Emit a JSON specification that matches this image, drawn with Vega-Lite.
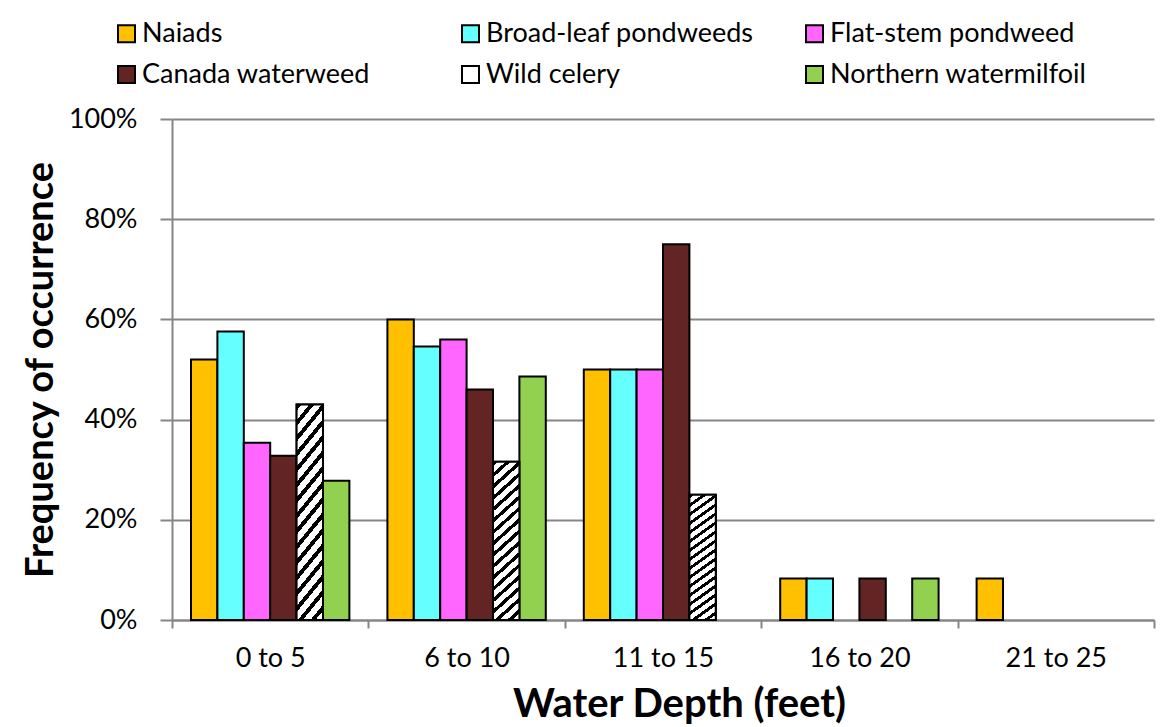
{
  "$schema": "https://vega.github.io/schema/vega-lite/v6.json",
  "width": 982,
  "height": 501,
  "autosize": {"type": "none"},
  "padding": {"left": 172, "top": 119, "right": 20, "bottom": 107},
  "background": "white",
  "data": {"values": [
    {"depth": "0 to 5", "species": "Naiads", "freq": 0.52},
    {"depth": "0 to 5", "species": "Broad-leaf pondweeds", "freq": 0.576},
    {"depth": "0 to 5", "species": "Flat-stem pondweed", "freq": 0.354},
    {"depth": "0 to 5", "species": "Canada waterweed", "freq": 0.328},
    {"depth": "0 to 5", "species": "Wild celery", "freq": 0.43},
    {"depth": "0 to 5", "species": "Northern watermilfoil", "freq": 0.278},
    {"depth": "6 to 10", "species": "Naiads", "freq": 0.60},
    {"depth": "6 to 10", "species": "Broad-leaf pondweeds", "freq": 0.546},
    {"depth": "6 to 10", "species": "Flat-stem pondweed", "freq": 0.56},
    {"depth": "6 to 10", "species": "Canada waterweed", "freq": 0.46},
    {"depth": "6 to 10", "species": "Wild celery", "freq": 0.316},
    {"depth": "6 to 10", "species": "Northern watermilfoil", "freq": 0.486},
    {"depth": "11 to 15", "species": "Naiads", "freq": 0.5},
    {"depth": "11 to 15", "species": "Broad-leaf pondweeds", "freq": 0.5},
    {"depth": "11 to 15", "species": "Flat-stem pondweed", "freq": 0.5},
    {"depth": "11 to 15", "species": "Canada waterweed", "freq": 0.75},
    {"depth": "11 to 15", "species": "Wild celery", "freq": 0.25},
    {"depth": "16 to 20", "species": "Naiads", "freq": 0.083},
    {"depth": "16 to 20", "species": "Broad-leaf pondweeds", "freq": 0.083},
    {"depth": "16 to 20", "species": "Canada waterweed", "freq": 0.083},
    {"depth": "16 to 20", "species": "Northern watermilfoil", "freq": 0.083},
    {"depth": "21 to 25", "species": "Naiads", "freq": 0.083}
  ]},
  "encoding": {
    "x": {
      "field": "depth", "type": "nominal",
      "sort": ["0 to 5", "6 to 10", "11 to 15", "16 to 20", "21 to 25"],
      "scale": {"domain": ["0 to 5", "6 to 10", "11 to 15", "16 to 20", "21 to 25"], "paddingInner": 0, "paddingOuter": 0},
      "title": "Water Depth (feet)",
      "axis": {"labelAngle": 0, "tickBand": "extent", "tickSize": 8, "labelPadding": 17, "titlePadding": 13, "titleFontSize": 40, "titleX": 507}
    },
    "xOffset": {
      "field": "species", "type": "nominal",
      "scale": {"domain": ["Naiads", "Broad-leaf pondweeds", "Flat-stem pondweed", "Canada waterweed", "Wild celery", "Northern watermilfoil"], "paddingInner": 0, "paddingOuter": 0.72}
    },
    "y": {
      "field": "freq", "type": "quantitative",
      "scale": {"domain": [0, 1]},
      "title": "Frequency of occurrence",
      "axis": {"format": "%", "values": [0, 0.2, 0.4, 0.6, 0.8, 1], "tickSize": 12, "labelPadding": 23, "titlePadding": 8, "titleFontSize": 38}
    }
  },
  "layer": [
    {
      "mark": {"type": "bar", "stroke": "black", "strokeWidth": 2},
      "encoding": {
        "color": {
          "field": "species", "type": "nominal",
          "scale": {
            "domain": ["Naiads", "Broad-leaf pondweeds", "Flat-stem pondweed", "Canada waterweed", "Wild celery", "Northern watermilfoil"],
            "range": ["#FFC000", "#66FFFF", "#FF66FF", "#632523", "#FFFFFF", "#92D050"]
          },
          "legend": {
            "title": null,
            "orient": "none",
            "legendX": -59,
            "legendY": -99,
            "direction": "horizontal",
            "columns": 3,
            "gridAlign": "all",
            "columnPadding": 47,
            "rowPadding": 13,
            "symbolType": "square",
            "symbolSize": 289,
            "symbolStrokeWidth": 2,
            "symbolStrokeColor": "black",
            "symbolOpacity": 1,
            "labelFontSize": 27,
            "labelOffset": 2,
            "labelLimit": 400,
            "padding": 0,
            "encode": {"symbols": {
              "update": {
                "stroke": {"value": "black"},
                "strokeWidth": {"value": 2}
              }
            }}
          }
        }
      }
    },
    {
      "transform": [{"filter": "datum.species === 'Wild celery'"}],
      "mark": {"type": "bar", "stroke": "black", "strokeWidth": 2,
        "fill": {"gradient": "linear", "x1": 0, "y1": 0, "x2": 0.169, "y2": 1.125, "stops": [
            {"offset": 0, "color": "black"}, {"offset": 0.025, "color": "black"}, {"offset": 0.025, "color": "white"}, {"offset": 0.0625, "color": "white"},
            {"offset": 0.0625, "color": "black"}, {"offset": 0.0875, "color": "black"}, {"offset": 0.0875, "color": "white"}, {"offset": 0.125, "color": "white"},
            {"offset": 0.125, "color": "black"}, {"offset": 0.15, "color": "black"}, {"offset": 0.15, "color": "white"}, {"offset": 0.1875, "color": "white"},
            {"offset": 0.1875, "color": "black"}, {"offset": 0.2125, "color": "black"}, {"offset": 0.2125, "color": "white"}, {"offset": 0.25, "color": "white"},
            {"offset": 0.25, "color": "black"}, {"offset": 0.275, "color": "black"}, {"offset": 0.275, "color": "white"}, {"offset": 0.3125, "color": "white"},
            {"offset": 0.3125, "color": "black"}, {"offset": 0.3375, "color": "black"}, {"offset": 0.3375, "color": "white"}, {"offset": 0.375, "color": "white"},
            {"offset": 0.375, "color": "black"}, {"offset": 0.4, "color": "black"}, {"offset": 0.4, "color": "white"}, {"offset": 0.4375, "color": "white"},
            {"offset": 0.4375, "color": "black"}, {"offset": 0.4625, "color": "black"}, {"offset": 0.4625, "color": "white"}, {"offset": 0.5, "color": "white"},
            {"offset": 0.5, "color": "black"}, {"offset": 0.525, "color": "black"}, {"offset": 0.525, "color": "white"}, {"offset": 0.5625, "color": "white"},
            {"offset": 0.5625, "color": "black"}, {"offset": 0.5875, "color": "black"}, {"offset": 0.5875, "color": "white"}, {"offset": 0.625, "color": "white"},
            {"offset": 0.625, "color": "black"}, {"offset": 0.65, "color": "black"}, {"offset": 0.65, "color": "white"}, {"offset": 0.6875, "color": "white"},
            {"offset": 0.6875, "color": "black"}, {"offset": 0.7125, "color": "black"}, {"offset": 0.7125, "color": "white"}, {"offset": 0.75, "color": "white"},
            {"offset": 0.75, "color": "black"}, {"offset": 0.775, "color": "black"}, {"offset": 0.775, "color": "white"}, {"offset": 0.8125, "color": "white"},
            {"offset": 0.8125, "color": "black"}, {"offset": 0.8375, "color": "black"}, {"offset": 0.8375, "color": "white"}, {"offset": 0.875, "color": "white"},
            {"offset": 0.875, "color": "black"}, {"offset": 0.9, "color": "black"}, {"offset": 0.9, "color": "white"}, {"offset": 0.9375, "color": "white"},
            {"offset": 0.9375, "color": "black"}, {"offset": 0.9625, "color": "black"}, {"offset": 0.9625, "color": "white"}, {"offset": 1, "color": "white"}
          ]}
      }
    }
  ],
  "config": {
    "font": "Lato",
    "view": {"stroke": null},
    "axis": {
      "labelFont": "Lato", "titleFont": "Lato",
      "labelFontSize": 27, "labelColor": "black",
      "titleColor": "black", "titleFontWeight": "bold",
      "domainColor": "#868686", "domainWidth": 2,
      "tickColor": "#868686", "tickWidth": 2,
      "gridColor": "#868686", "gridWidth": 2
    },
    "axisX": {"grid": false},
    "axisY": {"grid": true},
    "legend": {"labelFont": "Lato", "labelColor": "black"}
  }
}
